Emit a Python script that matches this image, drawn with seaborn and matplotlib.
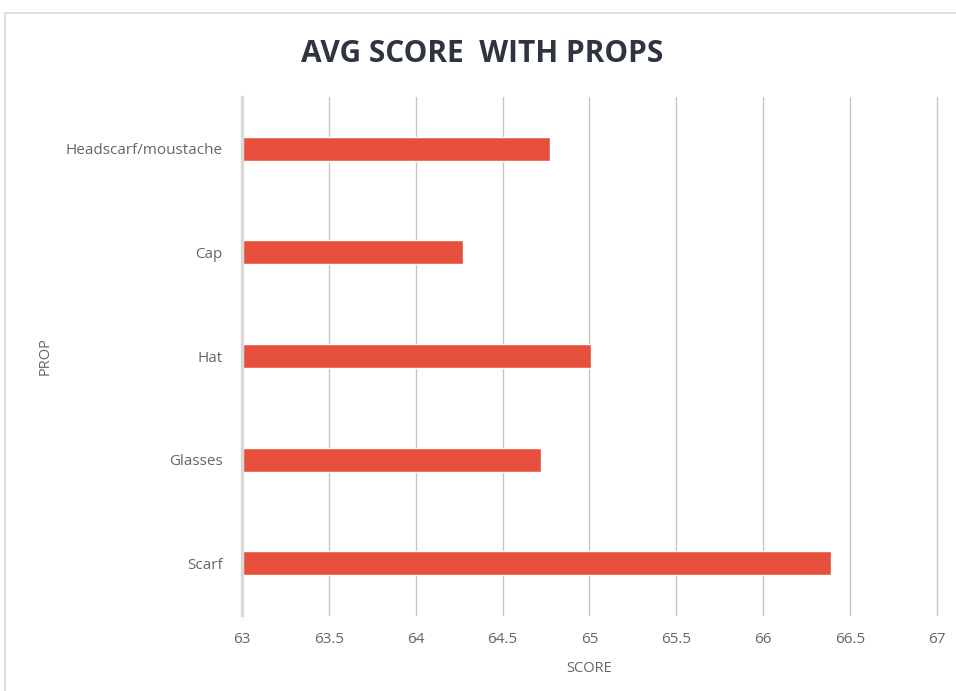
import matplotlib
matplotlib.use("Agg")
import matplotlib.pyplot as plt
import seaborn as sns
import pandas as pd
from matplotlib.patches import Rectangle

# data
props = ["Headscarf/moustache", "Cap", "Hat", "Glasses", "Scarf"]
scores = [64.77, 64.27, 65.01, 64.72, 66.39]
x_ticks = [63, 63.5, 64, 64.5, 65, 65.5, 66, 66.5, 67]

df = pd.DataFrame({"PROP": props, "SCORE": scores})

sns.set_theme(style="white")
plt.rcParams["font.family"] = ["Open Sans", "DejaVu Sans"]

fig = plt.figure(figsize=(9.56, 6.91), dpi=100)
ax = fig.add_axes([0.2531, 0.110, 0.7270, 0.7496])

sns.barplot(data=df, x="SCORE", y="PROP", order=props, orient="h",
            color="#E8503E", width=0.23, saturation=1, ax=ax)

ax.set_xlim(63, 67)
ax.set_ylim(4.5, -0.5)
ax.set_xticks(x_ticks)
ax.set_xticklabels([f"{t:g}" for t in x_ticks])
ax.grid(axis="x", color="#c4c4c4", linewidth=1)
for gl in ax.get_xgridlines():
    gl.set_clip_on(False)
ax.set_axisbelow(True)
for side in ["top", "right", "bottom"]:
    ax.spines[side].set_visible(False)
ax.spines["left"].set_color("#d9d9d9")
ax.spines["left"].set_linewidth(2.5)
ax.tick_params(axis="both", length=0, colors="#666666", labelsize=11)
ax.tick_params(axis="x", pad=12)
ax.tick_params(axis="y", pad=14)

ax.set_xlabel("SCORE", color="#666666", fontsize=10.5)
ax.xaxis.set_label_coords(0.5, -0.088)
ax.set_ylabel("PROP", color="#666666", fontsize=10.5)
ax.yaxis.set_label_coords(-0.272, 0.5)

fig.text(0.504, 0.922, "AVG SCORE  WITH PROPS", ha="center", va="center",
         fontsize=21.5, fontweight="bold", color="#2E3440")

# chart frame like the spreadsheet export
fig.patches.append(Rectangle((5 / 956, -0.01), 1.0, (691 - 13) / 691 + 0.01,
                             transform=fig.transFigure, fill=False,
                             edgecolor="#d9d9d9", linewidth=1.2))

fig.savefig("out.png", dpi=100)
